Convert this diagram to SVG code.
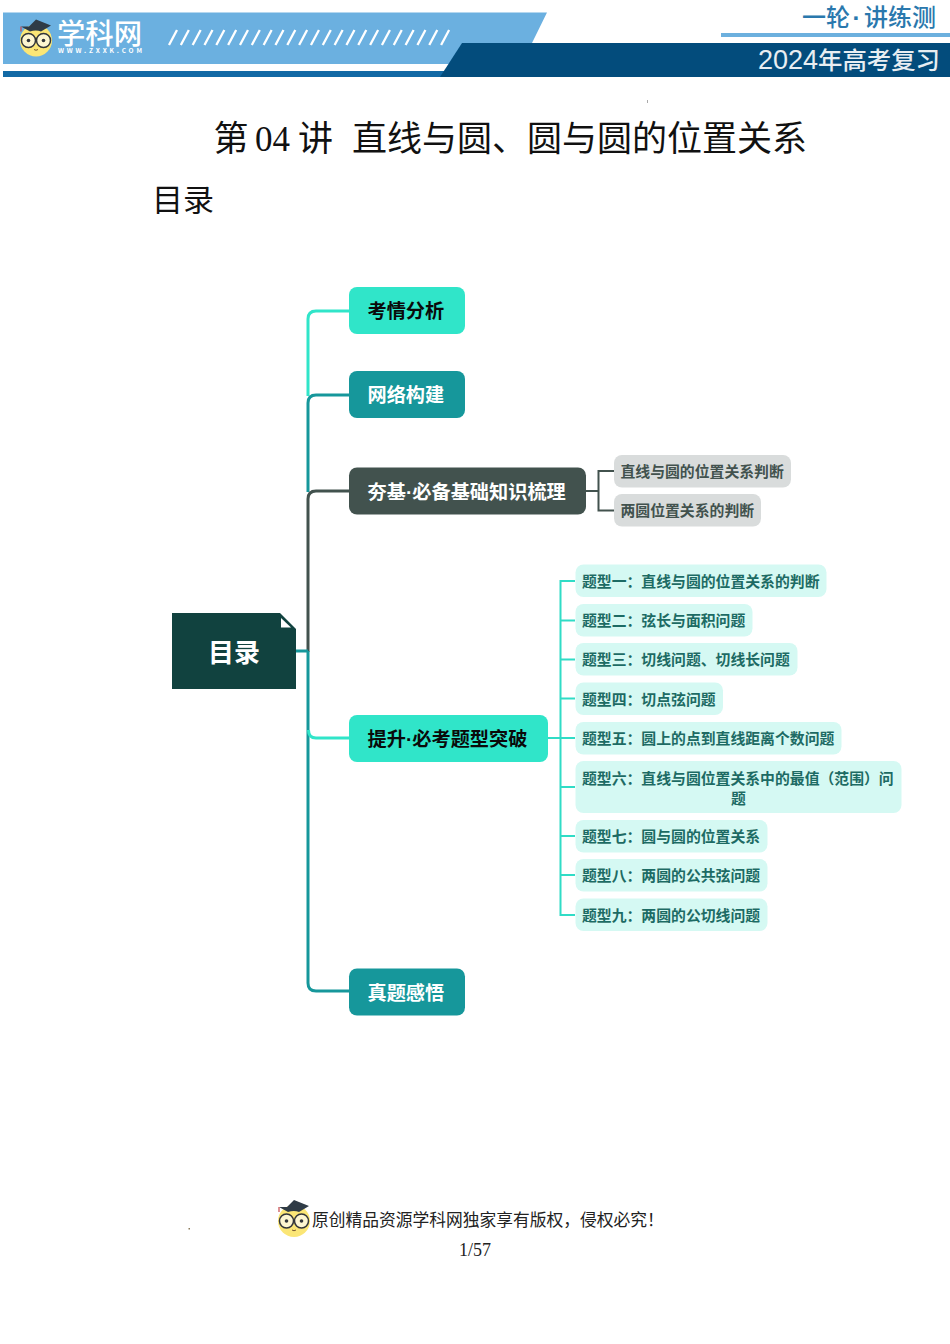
<svg xmlns="http://www.w3.org/2000/svg" width="950" height="1344" viewBox="0 0 950 1344">
<style>
text{font-family:"Noto Sans CJK SC","Liberation Sans",sans-serif}
.b{font-weight:700}
.serif{font-family:"Liberation Serif","Noto Sans CJK SC",serif}
.main{font-size:19.200px;font-weight:700}
.dot{font-family:"Liberation Sans",sans-serif}
.sub{font-size:14.850px;font-weight:700}
.wh{fill:#fff}
.bk{fill:#0a0a0a}
.grey rect{fill:#d9dcdc}
.grey text{fill:#42524e}
.topic rect{fill:#d5f9f3}
.topic text{fill:#1d6b64}
.ln{fill:none;stroke-width:3}
.ln2{fill:none;stroke-width:2}
</style>
<defs>
<g id="mascot">
<circle cx="0" cy="0" r="16" fill="#fbe676"/>
<path d="M-15-6Q0-13 15-6L15-2Q0-4-15-2Z" fill="#fbe676"/>
<path d="M-7-14L0-21L0-21L15-15L5-9Q0-11-6-9L-15-14Z" fill="#2f3b46"/>
<path d="M-15-14L-15-9" stroke="#c8484b" stroke-width="1.2" fill="none"/>
<circle cx="-7.500" cy="0" r="7" fill="#fdf6d0" stroke="#33363a" stroke-width="1.500"/>
<circle cx="7.500" cy="0" r="7" fill="#fdf6d0" stroke="#33363a" stroke-width="1.500"/>
<circle cx="-7.500" cy="0" r="1.800" fill="#33363a"/>
<circle cx="7.500" cy="0" r="1.800" fill="#33363a"/>
<path d="M-2 9Q0 10.500 2 9" stroke="#7a5a30" fill="none"/>
</g>
</defs>
<rect width="950" height="1344" fill="#fff"/>

<g id="header">
<path d="M3 12.500H547L532 43H467L450 64H3Z" fill="#6bb0e0"/>
<rect x="3" y="71" width="445" height="6" fill="#1269a5"/>
<path d="M462 43H950V77H440Z" fill="#034c7c"/>
<rect x="721" y="33" width="229" height="4" fill="#6cb0de"/>
<path d="M169 45l8-15m3.830 15l8-15m3.830 15l8-15m3.830 15l8-15m3.830 15l8-15m3.830 15l8-15m3.830 15l8-15m3.830 15l8-15m3.830 15l8-15m3.830 15l8-15m3.830 15l8-15m3.830 15l8-15m3.830 15l8-15m3.830 15l8-15m3.830 15l8-15m3.830 15l8-15m3.830 15l8-15m3.830 15l8-15m3.830 15l8-15m3.830 15l8-15m3.830 15l8-15m3.830 15l8-15m3.830 15l8-15m3.830 15l8-15" stroke="#fff" stroke-width="2.300" fill="none"/>
<use href="#mascot" x="36" y="40.500"/>
<text x="57" y="43.500" font-weight="500" class="wh" font-size="28" textLength="85" lengthAdjust="spacingAndGlyphs">学科网</text>
<text x="58" y="53" class="b wh" font-size="6.500" textLength="84" font-family="Liberation Sans">WWW.ZXXK.COM</text>
<text y="26" font-size="24" font-weight="500" fill="#2a78ad"><tspan x="802">一轮</tspan><tspan x="852.500" class="dot" font-weight="700">·</tspan><tspan x="864">讲练测</tspan></text>
<text y="69" font-weight="500" fill="#e8eef2"><tspan x="758" font-size="27" class="dot" font-weight="400">2024</tspan><tspan x="818" font-size="24.400">年高考复习</tspan></text>
</g>

<g id="title">
<text x="213.500" y="151" font-size="35" class="serif" fill="#111">第</text>
<text x="255" y="151" font-size="35" class="serif" fill="#111">04</text>
<text x="298" y="151" font-size="35" class="serif" fill="#111">讲</text>
<text x="352" y="151" font-size="35" class="serif" fill="#111">直线与圆、圆与圆的位置关系</text>
<text x="152" y="211" font-size="31" class="serif" fill="#111">目录</text>
</g>

<g id="connectors">
<path class="ln" stroke="#30e5c9" d="M349 311H316Q308 311 308 319V396"/>
<path class="ln" stroke="#16979b" d="M349 395H316Q308 395 308 403V492"/>
<path class="ln" stroke="#42524e" d="M349 491H316Q308 491 308 499V652"/>
<path class="ln" stroke="#16979b" d="M296 651H308M308 651V983Q308 991 316 991H349"/>
<path class="ln" stroke="#30e5c9" d="M308.500 730Q308.500 738 316 738H349"/>
<path class="ln2" stroke="#42524e" d="M586 491H598M614 471H598.500V510.500H614"/>
<path class="ln2" stroke="#30dcc6" d="M547 738H575M575 581H560.500V915H575M560 620.500H575M560 659.500H575M560 698.500H575M560 787H575M560 836H575M560 875H575"/>
</g>

<g id="root">
<path d="M172 613H280L296 629V689H172Z" fill="#11423f"/>
<path d="M281 618V627.500H291Z" fill="#fff"/>
<text x="234" y="662" class="b wh" font-size="26" text-anchor="middle">目录</text>
</g>
<g id="n1"><rect x="349" y="287" width="116" height="47" rx="8" fill="#30e5c9"/><text x="367.500" y="318" class="main bk">考情分析</text></g>
<g id="n2"><rect x="349" y="371" width="116" height="47" rx="8" fill="#16979b"/><text x="367.500" y="402" class="main wh">网络构建</text></g>
<g id="n3"><rect x="349" y="467.500" width="237" height="47" rx="8" fill="#42524e"/><text x="367.500" y="499" class="main wh">夯基<tspan class="dot">·</tspan>必备基础知识梳理</text></g>
<g id="n4"><rect x="349" y="715" width="199" height="47" rx="8" fill="#30e5c9"/><text x="367.500" y="746" class="main bk">提升<tspan class="dot">·</tspan>必考题型突破</text></g>
<g id="n5"><rect x="349" y="968.500" width="116" height="47" rx="8" fill="#16979b"/><text x="367.500" y="1000" class="main wh">真题感悟</text></g>

<g id="g1" class="grey"><rect x="614" y="455" width="177" height="32.500" rx="8"/><text x="620.500" y="477" class="sub">直线与圆的位置关系判断</text></g>
<g id="g2" class="grey"><rect x="614" y="494" width="147" height="32.500" rx="8"/><text x="620.500" y="516" class="sub">两圆位置关系的判断</text></g>

<g id="t1" class="topic"><rect x="575.500" y="564.500" width="251" height="32.500" rx="8"/><text x="582" y="586.500" class="sub">题型一：直线与圆的位置关系的判断</text></g>
<g id="t2" class="topic"><rect x="575.500" y="604" width="177" height="32.500" rx="8"/><text x="582" y="626" class="sub">题型二：弦长与面积问题</text></g>
<g id="t3" class="topic"><rect x="575.500" y="643" width="222" height="32.500" rx="8"/><text x="582" y="665" class="sub">题型三：切线问题、切线长问题</text></g>
<g id="t4" class="topic"><rect x="575.500" y="682.500" width="147.500" height="32.500" rx="8"/><text x="582" y="704.500" class="sub">题型四：切点弦问题</text></g>
<g id="t5" class="topic"><rect x="575.500" y="722" width="266" height="32.500" rx="8"/><text x="582" y="744" class="sub">题型五：圆上的点到直线距离个数问题</text></g>
<g id="t6" class="topic"><rect x="575.500" y="761" width="326" height="52" rx="8"/><text x="582" y="783.500" class="sub">题型六：直线与圆位置关系中的最值（范围）问</text><text x="738.500" y="803.500" class="sub" text-anchor="middle">题</text></g>
<g id="t7" class="topic"><rect x="575.500" y="820" width="192" height="32.500" rx="8"/><text x="582" y="842" class="sub">题型七：圆与圆的位置关系</text></g>
<g id="t8" class="topic"><rect x="575.500" y="859" width="192" height="32.500" rx="8"/><text x="582" y="881" class="sub">题型八：两圆的公共弦问题</text></g>
<g id="t9" class="topic"><rect x="575.500" y="898.500" width="192" height="32.500" rx="8"/><text x="582" y="920.500" class="sub">题型九：两圆的公切线问题</text></g>

<g id="footer">
<use href="#mascot" x="294" y="1221"/>
<text x="312" y="1226" font-size="16.750" class="serif" fill="#222">原创精品资源学科网独家享有版权，侵权必究！</text>
<text x="459" y="1256" font-size="18" class="serif" fill="#222">1/57</text>
<rect x="188.500" y="1228" width="1.500" height="1.500" fill="#8a7a5a"/>
<rect x="647" y="100" width="1" height="3" fill="#aaa"/>
</g>
</svg>
